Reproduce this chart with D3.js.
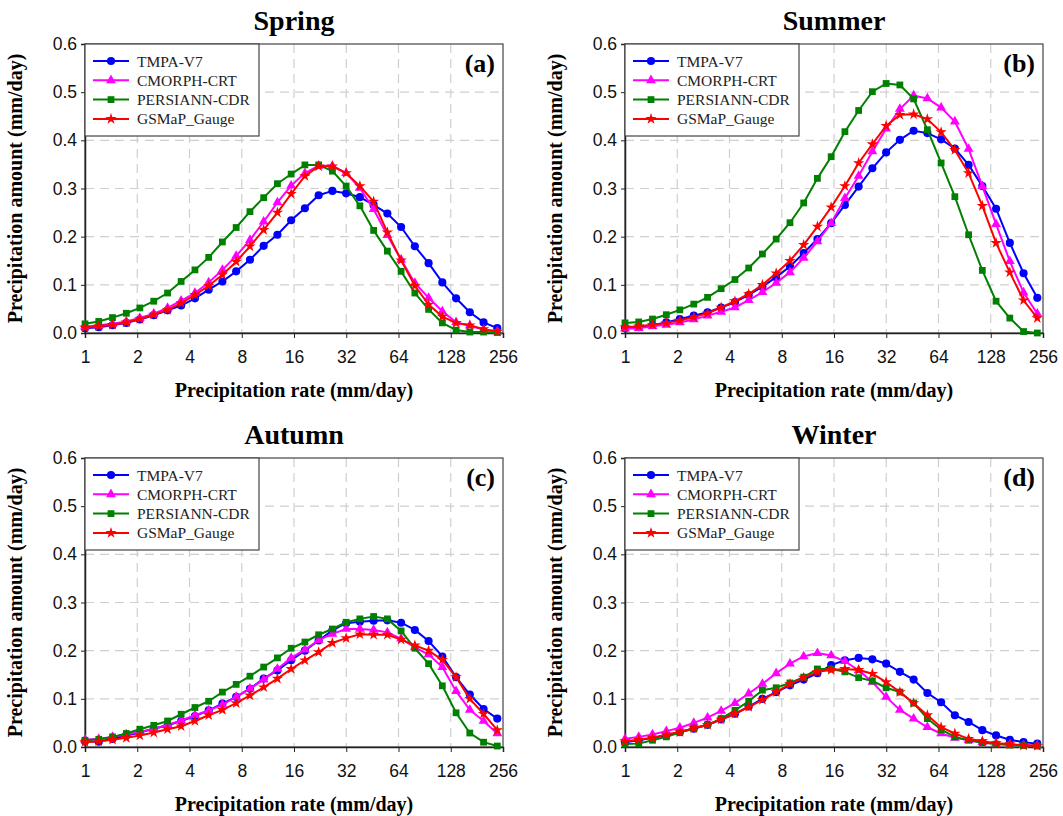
<!DOCTYPE html>
<meta charset="utf-8">
<style>
body { margin: 0; background: #fff; }
svg { font-family: "Liberation Serif", "Times New Roman", serif; }
.grid line { stroke: #cfcfcf; stroke-width: 1.2px; stroke-dasharray: 9, 6; }
.axis text { font-size: 17.5px; fill: #111; }
.axis line { stroke: #222; }
.frame { fill: none; stroke: #444; stroke-width: 1.2px; }
</style>
<svg width="1063" height="816"></svg>
<script src="https://cdn.jsdelivr.net/npm/d3@7"></script>
<script>

// precipitation rate bins (mm/day), factor 1.2 per step
var rates = [1, 1.2, 1.44, 1.73, 2.07, 2.49, 2.99, 3.58, 4.3, 5.16, 6.19, 7.43, 8.92, 10.7, 12.84, 15.41,
  18.49, 22.19, 26.62, 31.95, 38.34, 46.01, 55.21, 66.25, 79.5, 95.4, 114.48, 137.37, 164.84, 197.81, 237.38];
var xTicks = [1, 2, 4, 8, 16, 32, 64, 128, 256];
var yTicks = [0, 0.1, 0.2, 0.3, 0.4, 0.5, 0.6];
var seriesNames = ["TMPA-V7", "CMORPH-CRT", "PERSIANN-CDR", "GSMaP_Gauge"];
var seasons = ["Spring", "Summer", "Autumn", "Winter"];
var tags = ["(a)", "(b)", "(c)", "(d)"];

var springTMPA = [0.010,0.012,0.016,0.021,0.028,0.037,0.047,0.057,0.072,0.090,0.107,0.128,0.152,0.181,0.204,0.234,
  0.259,0.286,0.295,0.290,0.282,0.266,0.248,0.220,0.180,0.145,0.105,0.072,0.043,0.022,0.010];
var springCMORPH = [0.013,0.016,0.019,0.024,0.031,0.040,0.052,0.067,0.083,0.105,0.131,0.160,0.193,0.231,0.271,0.306,
  0.332,0.347,0.347,0.332,0.301,0.257,0.203,0.152,0.104,0.073,0.045,0.022,0.015,0.007,0.003];
var springPERSIANN = [0.019,0.024,0.032,0.041,0.052,0.066,0.083,0.107,0.131,0.157,0.189,0.219,0.252,0.281,0.310,0.330,
  0.349,0.349,0.336,0.305,0.264,0.213,0.170,0.128,0.083,0.049,0.021,0.006,0.002,0.002,0.001];
var springGSMaP = [0.011,0.014,0.017,0.022,0.029,0.038,0.048,0.062,0.079,0.098,0.121,0.148,0.180,0.214,0.250,0.289,
  0.326,0.346,0.346,0.332,0.305,0.273,0.209,0.151,0.098,0.059,0.034,0.021,0.016,0.008,0.003];

var summerTMPA = [0.010,0.012,0.016,0.022,0.029,0.036,0.043,0.053,0.064,0.079,0.096,0.116,0.138,0.166,0.195,0.228,
  0.266,0.304,0.342,0.375,0.401,0.420,0.415,0.402,0.383,0.349,0.305,0.258,0.187,0.124,0.073];
var summerCMORPH = [0.009,0.010,0.014,0.017,0.022,0.028,0.036,0.044,0.053,0.068,0.085,0.104,0.126,0.156,0.190,0.228,
  0.280,0.326,0.377,0.424,0.465,0.493,0.487,0.468,0.439,0.382,0.305,0.226,0.149,0.084,0.040];
var summerPERSIANN = [0.021,0.023,0.029,0.038,0.048,0.060,0.074,0.092,0.111,0.135,0.164,0.195,0.229,0.270,0.321,0.366,
  0.418,0.462,0.501,0.518,0.515,0.486,0.422,0.353,0.283,0.204,0.130,0.066,0.031,0.003,0.000];
var summerGSMaP = [0.012,0.014,0.017,0.021,0.026,0.033,0.041,0.053,0.066,0.081,0.100,0.124,0.150,0.183,0.221,0.261,
  0.305,0.353,0.392,0.430,0.453,0.454,0.444,0.417,0.380,0.332,0.264,0.187,0.126,0.068,0.031];

var autumnTMPA = [0.012,0.011,0.017,0.024,0.030,0.038,0.045,0.054,0.064,0.076,0.090,0.104,0.121,0.142,0.159,0.180,
  0.200,0.221,0.242,0.257,0.260,0.262,0.263,0.258,0.243,0.220,0.188,0.145,0.109,0.079,0.059];
var autumnCMORPH = [0.015,0.017,0.021,0.026,0.031,0.038,0.046,0.055,0.066,0.076,0.088,0.104,0.121,0.140,0.162,0.185,
  0.202,0.222,0.235,0.245,0.245,0.243,0.238,0.225,0.207,0.192,0.166,0.116,0.077,0.054,0.028];
var autumnPERSIANN = [0.014,0.016,0.021,0.028,0.037,0.045,0.054,0.068,0.082,0.095,0.114,0.130,0.147,0.166,0.185,0.205,
  0.218,0.233,0.245,0.259,0.266,0.271,0.266,0.241,0.205,0.173,0.127,0.071,0.029,0.010,0.002];
var autumnGSMaP = [0.010,0.012,0.015,0.019,0.024,0.030,0.037,0.043,0.054,0.066,0.077,0.091,0.107,0.124,0.142,0.162,
  0.180,0.197,0.216,0.226,0.234,0.233,0.233,0.223,0.211,0.200,0.181,0.145,0.100,0.069,0.035];

var winterTMPA = [0.010,0.014,0.019,0.024,0.031,0.038,0.046,0.057,0.069,0.084,0.100,0.114,0.128,0.140,0.153,0.170,
  0.180,0.185,0.182,0.173,0.156,0.140,0.112,0.093,0.066,0.052,0.035,0.024,0.015,0.010,0.007];
var winterCMORPH = [0.017,0.021,0.026,0.033,0.040,0.050,0.061,0.075,0.091,0.111,0.131,0.153,0.173,0.188,0.195,0.190,
  0.178,0.159,0.135,0.104,0.077,0.059,0.041,0.028,0.019,0.014,0.010,0.007,0.005,0.004,0.003];
var winterPERSIANN = [0.006,0.007,0.014,0.021,0.030,0.039,0.046,0.059,0.076,0.095,0.118,0.123,0.133,0.145,0.162,0.162,
  0.156,0.144,0.137,0.123,0.114,0.091,0.059,0.036,0.021,0.014,0.009,0.006,0.004,0.003,0.002];
var winterGSMaP = [0.012,0.015,0.019,0.026,0.031,0.039,0.046,0.057,0.069,0.083,0.098,0.114,0.131,0.144,0.156,0.160,
  0.162,0.160,0.152,0.135,0.114,0.091,0.066,0.041,0.028,0.017,0.012,0.008,0.006,0.003,0.002];

var colors = ["#0000ff", "#ff00ff", "#008000", "#ff0000"];
var shapes = [d3.symbolCircle, d3.symbolTriangle, d3.symbolSquare, d3.symbolStar];
var sizes = [52, 42, 46, 40];

var panelData = [
  [springTMPA, springCMORPH, springPERSIANN, springGSMaP],
  [summerTMPA, summerCMORPH, summerPERSIANN, summerGSMaP],
  [autumnTMPA, autumnCMORPH, autumnPERSIANN, autumnGSMaP],
  [winterTMPA, winterCMORPH, winterPERSIANN, winterGSMaP]
];
var origins = [[85, 44], [625, 44], [85, 458], [625, 458]];
var width = 418, height = 289;

var svg = d3.select("svg");
svg.append("rect").attr("width", 1063).attr("height", 816).attr("fill", "#fff");

var x = d3.scaleLog().base(2).domain([1, 256]).range([0, width]);
var y = d3.scaleLinear().domain([0, 0.6]).range([height, 0]);

var line = d3.line()
  .x(function(d) { return x(d[0]); })
  .y(function(d) { return y(d[1]); });

panelData.forEach(function(series, p) {
  var g = svg.append("g").attr("transform", "translate(" + origins[p][0] + "," + origins[p][1] + ")");

  // dashed grid
  var grid = g.append("g").attr("class", "grid");
  grid.selectAll(".vx").data(xTicks.slice(1, -1)).enter().append("line")
    .attr("x1", function(d) { return x(d); }).attr("x2", function(d) { return x(d); })
    .attr("y1", 0).attr("y2", height);
  grid.selectAll(".hy").data(yTicks.slice(1, -1)).enter().append("line")
    .attr("x1", 0).attr("x2", width)
    .attr("y1", function(d) { return y(d); }).attr("y2", function(d) { return y(d); });

  g.append("rect").attr("class", "frame").attr("width", width).attr("height", height);

  var ax = g.append("g").attr("class", "axis")
    .attr("transform", "translate(0," + height + ")")
    .call(d3.axisBottom(x).tickValues(xTicks).tickFormat(d3.format("d")).tickSize(5).tickPadding(13));
  ax.select(".domain").attr("stroke", "#222").attr("stroke-width", 1.5);

  var ay = g.append("g").attr("class", "axis")
    .call(d3.axisLeft(y).tickValues(yTicks).tickFormat(d3.format(".1f")).tickSize(4).tickPadding(4));
  ay.select(".domain").attr("stroke", "#222").attr("stroke-width", 1.5);

  // series
  series.forEach(function(vals, s) {
    var pts = rates.map(function(r, i) { return [r, vals[i]]; });
    g.append("path").datum(pts)
      .attr("fill", "none").attr("stroke", colors[s]).attr("stroke-width", 2)
      .attr("d", line);
    g.selectAll(".m" + s).data(pts).enter().append("path")
      .attr("transform", function(d) { return "translate(" + x(d[0]) + "," + y(d[1]) + ")"; })
      .attr("d", d3.symbol().type(shapes[s]).size(sizes[s]))
      .attr("fill", colors[s]);
  });

  // legend
  var lg = g.append("g");
  lg.append("rect").attr("x", 0).attr("y", 0).attr("width", 174).attr("height", 92)
    .attr("fill", "#fff").attr("stroke", "#444").attr("stroke-width", 1.2);
  seriesNames.forEach(function(name, s) {
    var yy = 17 + s * 19.3;
    lg.append("line").attr("x1", 8).attr("x2", 44).attr("y1", yy).attr("y2", yy)
      .attr("stroke", colors[s]).attr("stroke-width", 2);
    lg.append("path").attr("transform", "translate(26," + yy + ")")
      .attr("d", d3.symbol().type(shapes[s]).size(sizes[s])).attr("fill", colors[s]);
    lg.append("text").attr("x", 52).attr("y", yy + 5.5)
      .attr("font-size", "15.5px").attr("fill", "#222").text(name);
  });

  // panel tag
  g.append("text").attr("x", width - 8).attr("y", 28)
    .attr("text-anchor", "end").attr("font-size", "26px").attr("font-weight", "bold").text(tags[p]);

  // titles
  g.append("text").attr("x", width / 2).attr("y", -14)
    .attr("text-anchor", "middle").attr("font-size", "28px").attr("font-weight", "bold").text(seasons[p]);
  g.append("text").attr("x", width / 2).attr("y", height + 64)
    .attr("text-anchor", "middle").attr("font-size", "20px").attr("font-weight", "bold")
    .text("Precipitation rate (mm/day)");
  g.append("text")
    .attr("transform", "translate(-63," + (height / 2) + ") rotate(-90)")
    .attr("text-anchor", "middle").attr("font-size", "20px").attr("font-weight", "bold")
    .text("Precipitation amount (mm/day)");
});

</script>
